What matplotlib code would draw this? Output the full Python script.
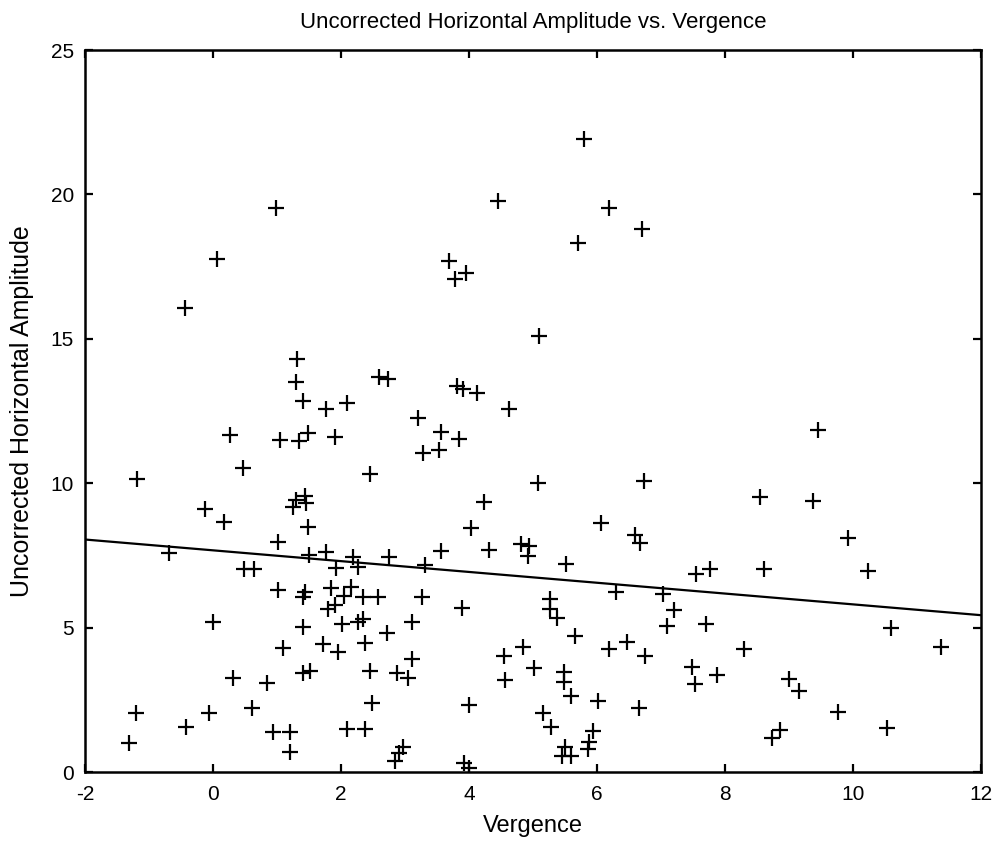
import matplotlib
matplotlib.use("Agg")
import matplotlib.pyplot as plt
from matplotlib import font_manager

# ---- data ----
vergence = [
    0.98, 0.07, 4.45, 3.68, 3.96, 3.78, 5.80, 6.18, 6.71, 5.70,
    -0.43, 1.32, 1.29, 1.40, 0.27, 1.05, 1.34, 1.48, 0.47, -1.19,
    -0.12, 0.17, 1.25, 1.30, 1.44, 1.46, 1.48, 5.10, 2.59, 2.74,
    3.82, 3.91, 4.12, 1.76, 2.10, 4.62, 3.21, 3.56, 3.84, 1.90,
    3.53, 3.28, 2.46, 5.08, 4.23, 4.03, 6.74, 8.54, 6.07, 9.46,
    9.38, 1.02, -0.69, 1.50, 0.49, 0.64, 1.02, 1.44, 1.40, 0.00,
    1.41, 1.09, 1.41, 1.52, 0.32, 0.85, -1.20, -0.06, 0.61, -0.42,
    0.93, 1.20, -1.31, 1.20, 1.76, 2.19, 2.26, 1.92, 2.75, 3.57,
    4.31, 4.81, 4.93, 4.92, 3.32, 1.84, 2.15, 2.04, 2.35, 2.58,
    3.26, 1.80, 1.91, 2.01, 2.27, 2.35, 3.11, 3.89, 2.72, 1.72,
    1.96, 2.38, 3.11, 2.45, 2.87, 3.05, 4.54, 4.85, 5.02, 4.57,
    4.00, 2.49, 5.16, 2.09, 2.38, 2.97, 2.91, 2.84, 3.92, 4.00,
    6.59, 6.67, 5.52, 7.54, 7.77, 8.61, 6.29, 7.03, 5.27, 5.27,
    5.37, 7.20, 7.09, 7.70, 5.66, 6.19, 6.47, 6.75, 8.30, 5.48,
    5.48, 5.60, 6.02, 6.66, 7.49, 7.53, 7.88, 5.28, 5.94, 5.88,
    5.86, 5.50, 5.45, 5.60, 8.74, 8.86, 9.92, 10.24, 10.59, 11.37,
    9.00, 9.16, 9.76, 10.53,
]
amplitude = [
    19.52, 17.76, 19.77, 17.70, 17.29, 17.06, 21.91, 19.52, 18.80, 18.31,
    16.08, 14.30, 13.51, 12.86, 11.67, 11.50, 11.47, 11.73, 10.54, 10.13,
    9.12, 8.64, 9.19, 9.42, 9.56, 9.30, 8.49, 15.11, 13.69, 13.60,
    13.37, 13.27, 13.11, 12.56, 12.79, 12.56, 12.25, 11.76, 11.52, 11.60,
    11.15, 11.03, 10.32, 10.00, 9.36, 8.45, 10.09, 9.53, 8.61, 11.84,
    9.38, 7.97, 7.57, 7.51, 7.02, 7.02, 6.30, 6.24, 6.07, 5.18,
    5.03, 4.30, 3.42, 3.51, 3.24, 3.09, 2.05, 2.05, 2.20, 1.57,
    1.40, 1.40, 1.02, 0.68, 7.63, 7.46, 7.11, 7.05, 7.46, 7.66,
    7.69, 7.91, 7.83, 7.48, 7.17, 6.36, 6.42, 6.09, 6.07, 6.05,
    6.05, 5.66, 5.78, 5.12, 5.20, 5.29, 5.18, 5.69, 4.80, 4.43,
    4.14, 4.48, 3.93, 3.51, 3.42, 3.27, 4.02, 4.32, 3.61, 3.19,
    2.32, 2.40, 2.05, 1.49, 1.49, 0.86, 0.65, 0.39, 0.32, 0.15,
    8.21, 7.92, 7.19, 6.87, 7.03, 7.03, 6.24, 6.16, 5.99, 5.63,
    5.34, 5.61, 5.06, 5.12, 4.72, 4.25, 4.49, 4.02, 4.26, 3.45,
    3.10, 2.64, 2.47, 2.23, 3.65, 3.04, 3.36, 1.57, 1.43, 1.05,
    0.79, 0.86, 0.55, 0.55, 1.17, 1.45, 8.09, 6.97, 4.98, 4.33,
    3.21, 2.80, 2.07, 1.53,
]
fit_x = [-2, 12]
fit_y = [8.05, 5.43]

x_ticks = [-2, 0, 2, 4, 6, 8, 10, 12]
y_ticks = [0, 5, 10, 15, 20, 25]

title = "Uncorrected Horizontal Amplitude vs. Vergence"
xlabel = "Vergence"
ylabel = "Uncorrected Horizontal Amplitude"

# ---- fonts ----
names = {f.name for f in font_manager.fontManager.ttflist}
fam = "Liberation Sans Narrow" if "Liberation Sans Narrow" in names else "Liberation Sans"
plt.rcParams["font.family"] = [fam, "DejaVu Sans"]
plt.rcParams["axes.unicode_minus"] = False

fig = plt.figure(figsize=(9.98, 8.46), dpi=100)
ax = fig.add_axes([85 / 998, 1 - 772 / 846, (981 - 85) / 998, (772 - 50) / 846])

ax.plot(vergence, amplitude, linestyle="none", marker="+", color="black",
        markersize=11, markeredgewidth=1.6)
ax.plot(fit_x, fit_y, color="black", linewidth=1.6)

ax.set_xlim(-2, 12)
ax.set_ylim(0, 25)
ax.set_xticks(x_ticks)
ax.set_yticks(y_ticks)
ax.tick_params(direction="in", length=6, width=1.6, top=True, right=True,
               labelsize=15)
ax.tick_params(axis="x", pad=9)
ax.tick_params(axis="y", pad=8)
for s in ax.spines.values():
    s.set_linewidth(1.8)

ax.set_title(title, fontsize=16, pad=16)
ax.set_xlabel(xlabel, fontsize=17, labelpad=8)
ax.set_ylabel(ylabel, fontsize=18, labelpad=12)

fig.savefig("out.png", dpi=100, facecolor="white")
